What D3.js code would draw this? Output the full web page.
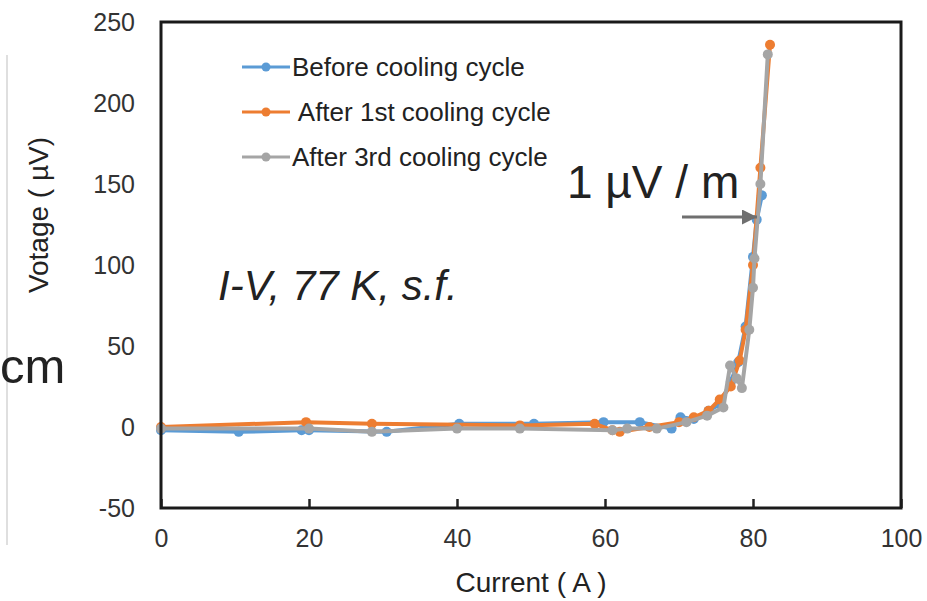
<!DOCTYPE html>
<html>
<head>
<meta charset="utf-8">
<script src="https://cdn.jsdelivr.net/npm/d3@7"></script>
<style>
  body { margin: 0; background: #fff; }
  svg { display: block; font-family: "Liberation Sans", Arial, sans-serif; }
</style>
</head>
<body>
<svg width="927" height="601"></svg>
<script>
// data
var seriesNames = ["Before cooling cycle", " After 1st cooling cycle", "After 3rd cooling cycle"];
var seriesColors = ["#5b9bd5", "#ed7d31", "#a5a5a5"];

var beforeCurrent = [0, 10.5, 19, 20, 30.5, 40.3, 50.4, 59.8, 64.7, 69, 70.2, 72, 74, 75.5, 77, 78, 79, 80, 80.5, 81.2];
var beforeVoltage = [-2, -3, -2, -2, -3, 2, 2, 3, 3, -1, 6, 5, 10, 14, 28, 40, 62, 105, 128, 143];

var after1Current = [0, 19.6, 28.5, 48.5, 58.6, 61, 62, 66, 70, 72, 74, 75.5, 77, 78.2, 79, 80, 81, 82.3];
var after1Voltage = [0, 3, 2, 1, 2, -2, -3, 0, 3, 6, 10, 17, 25, 41, 60, 100, 160, 236];

var after3Current = [0, 20, 28.5, 40, 48.5, 61, 63, 67, 71, 73.8, 76, 76.9, 77.8, 78.5, 79.5, 80, 80.2, 81, 82];
var after3Voltage = [-1, -1, -3, -1, -1, -2, -1, -1, 3, 7, 12, 38, 30, 24, 60, 86, 104, 150, 230];

var xTicks = [0, 20, 40, 60, 80, 100];
var yTicks = [-50, 0, 50, 100, 150, 200, 250];

var svg = d3.select("svg");

var x = d3.scaleLinear().domain([0, 100]).range([161, 901]);
var y = d3.scaleLinear().domain([-50, 250]).range([508, 22]);

// faint edge of neighbouring figure
svg.append("line")
  .attr("x1", 7).attr("x2", 7).attr("y1", 55).attr("y2", 545)
  .attr("stroke", "#d4d4d4").attr("stroke-width", 1.5);

// x axis, ticks pointing in
var xAxis = svg.append("g")
  .attr("transform", "translate(0," + y(-50) + ")")
  .call(d3.axisBottom(x).tickValues(xTicks).tickSize(-9).tickPadding(21).tickFormat(String));
xAxis.select(".domain").remove();
xAxis.selectAll("line").attr("stroke", "#222").attr("stroke-width", 2.5);
xAxis.selectAll("text").attr("font-size", 25).attr("fill", "#333")
  .attr("font-family", "Liberation Sans, Arial, sans-serif");

// y axis, labels only
var yAxis = svg.append("g")
  .attr("transform", "translate(" + x(0) + ",0)")
  .call(d3.axisLeft(y).tickValues(yTicks).tickSize(0).tickPadding(26).tickFormat(String));
yAxis.select(".domain").remove();
yAxis.selectAll("text").attr("font-size", 25).attr("fill", "#333")
  .attr("font-family", "Liberation Sans, Arial, sans-serif");

// series
var series = [
  { cur: beforeCurrent, vol: beforeVoltage },
  { cur: after1Current, vol: after1Voltage },
  { cur: after3Current, vol: after3Voltage }
];

var line = d3.line()
  .x(function(d) { return x(d[0]); })
  .y(function(d) { return y(d[1]); });

series.forEach(function(s, i) {
  var pts = s.cur.map(function(c, j) { return [c, s.vol[j]]; });
  var g = svg.append("g");
  g.append("path")
    .datum(pts)
    .attr("d", line)
    .attr("fill", "none")
    .attr("stroke", seriesColors[i])
    .attr("stroke-width", 4)
    .attr("stroke-linejoin", "round");
  g.selectAll("circle")
    .data(pts)
    .enter().append("circle")
    .attr("cx", function(d) { return x(d[0]); })
    .attr("cy", function(d) { return y(d[1]); })
    .attr("r", 5)
    .attr("fill", seriesColors[i]);
});

// plot frame
svg.append("rect")
  .attr("x", x(0)).attr("y", y(250))
  .attr("width", x(100) - x(0)).attr("height", y(-50) - y(250))
  .attr("fill", "none").attr("stroke", "#1a1a1a").attr("stroke-width", 3);

// legend
var legend = svg.append("g").selectAll("g")
  .data(seriesNames)
  .enter().append("g")
  .attr("transform", function(d, i) { return "translate(242," + (67 + i * 45) + ")"; });

legend.append("line")
  .attr("x1", 0).attr("x2", 48)
  .attr("stroke", function(d, i) { return seriesColors[i]; })
  .attr("stroke-width", 3);
legend.append("circle")
  .attr("cx", 24).attr("r", 4.5)
  .attr("fill", function(d, i) { return seriesColors[i]; });
legend.append("text")
  .attr("x", 50).attr("dy", "0.35em")
  .attr("font-size", 26).attr("fill", "#222")
  .attr("xml:space", "preserve")
  .style("white-space", "pre")
  .text(function(d) { return d; });

// axis titles
svg.append("text")
  .attr("x", 531).attr("y", 592)
  .attr("text-anchor", "middle")
  .attr("font-size", 28).attr("fill", "#222")
  .text("Current ( A )");

svg.append("text")
  .attr("transform", "translate(48,215) rotate(-90)")
  .attr("text-anchor", "middle")
  .attr("font-size", 28).attr("fill", "#222")
  .text("Votage ( \u00b5V)");

// annotations
svg.append("text")
  .attr("x", 218).attr("y", 300)
  .attr("font-size", 42).attr("font-style", "italic").attr("fill", "#222")
  .text("I-V, 77 K, s.f.");

svg.append("text")
  .attr("x", 567).attr("y", 198)
  .attr("font-size", 46).attr("fill", "#222")
  .text("1 \u00b5V / m");

svg.append("text")
  .attr("x", 0).attr("y", 383)
  .attr("font-size", 49).attr("fill", "#222")
  .text("cm");

// arrow
svg.append("defs").append("marker")
  .attr("id", "head")
  .attr("viewBox", "0 0 10 10")
  .attr("refX", 10).attr("refY", 5)
  .attr("markerWidth", 5).attr("markerHeight", 5)
  .attr("markerUnits", "strokeWidth")
  .attr("orient", "auto")
  .append("path")
  .attr("d", "M0,0 L10,5 L0,10 z")
  .attr("fill", "#6f6f6f");

svg.append("line")
  .attr("x1", 682).attr("y1", 217).attr("x2", 757).attr("y2", 217)
  .attr("stroke", "#6f6f6f").attr("stroke-width", 3)
  .attr("marker-end", "url(#head)");
</script>
</body>
</html>
